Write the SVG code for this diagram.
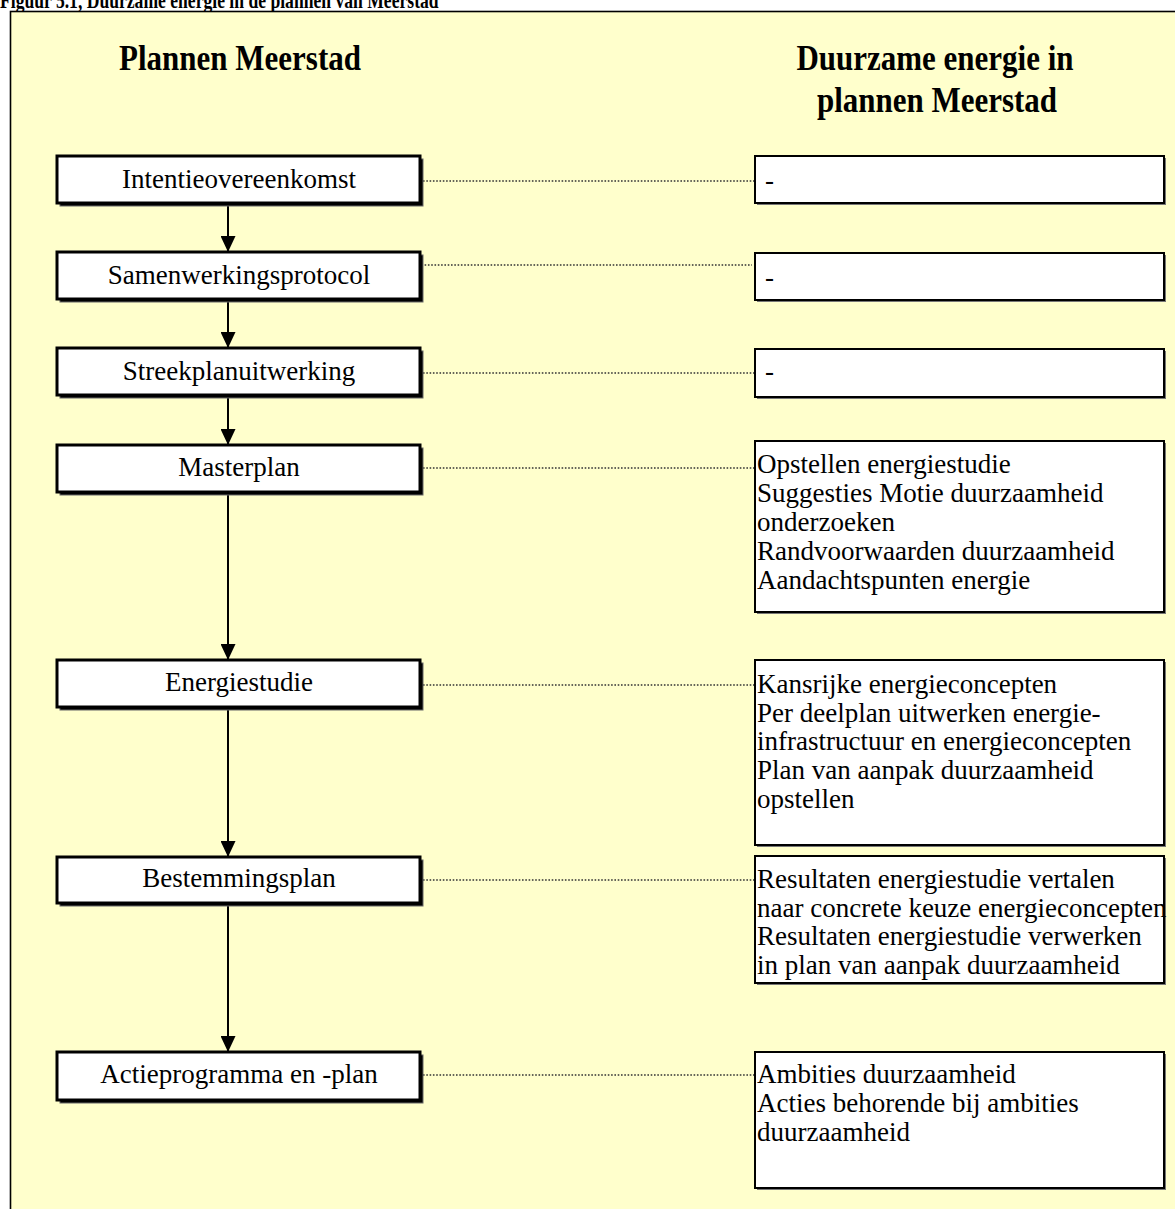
<svg xmlns="http://www.w3.org/2000/svg" width="1175" height="1209" viewBox="0 0 1175 1209">
  <defs>
    <style>
      .title { font-family: "Liberation Serif", "Times New Roman", serif; font-weight: bold; font-size: 17.6px; fill: #000; }
      .head { font-family: "Liberation Serif", "Times New Roman", serif; font-weight: bold; font-size: 31px; fill: #000; text-anchor: middle; }
      .lbl { font-family: "Liberation Serif", "Times New Roman", serif; font-size: 27px; fill: #000; }
      .mid { text-anchor: middle; }
      .step { fill: #fff; stroke: #000; stroke-width: 3; }
      .step-shadow { fill: #000; stroke: #666; stroke-width: 1; }
      .note { fill: #fff; stroke: #000; stroke-width: 2; }
      .note-shadow { fill: #777; }
      .dots { stroke: #333; stroke-width: 1.6; stroke-dasharray: 1.6 1.7; fill: none; }
      .flow { stroke: #000; stroke-width: 2; fill: none; }
    </style>
    <marker id="arrow" viewBox="0 0 16 15" refX="16" refY="7.5" markerWidth="16" markerHeight="15" markerUnits="userSpaceOnUse" orient="auto">
      <path d="M0,0 L16,7.5 L0,15 Z" fill="#000"/>
    </marker>
  </defs>

  <!-- caption, partly above the top edge -->
  <text class="title" transform="translate(0,8) scale(1,1.3)">Figuur 5.1, Duurzame energie in de plannen van Meerstad</text>

  <!-- figure frame -->
  <rect x="10.5" y="11.5" width="1200" height="1230" fill="#FFFFCC" stroke="#000" stroke-width="1.6"/>

  <!-- column headings -->
  <g id="heading-left">
    <text class="head" transform="translate(240,70) scale(1,1.15)">Plannen Meerstad</text>
  </g>
  <g id="heading-right">
    <text class="head" transform="translate(935,70) scale(1,1.15)">Duurzame energie in</text>
    <text class="head" transform="translate(937,112) scale(1,1.15)">plannen Meerstad</text>
  </g>

  <!-- connectors -->
  <g id="connectors">
    <line class="flow" x1="228" y1="204" x2="228" y2="252" marker-end="url(#arrow)"/>
    <line class="flow" x1="228" y1="300" x2="228" y2="348" marker-end="url(#arrow)"/>
    <line class="flow" x1="228" y1="396" x2="228" y2="445" marker-end="url(#arrow)"/>
    <line class="flow" x1="228" y1="493" x2="228" y2="660" marker-end="url(#arrow)"/>
    <line class="flow" x1="228" y1="708" x2="228" y2="857" marker-end="url(#arrow)"/>
    <line class="flow" x1="228" y1="904" x2="228" y2="1052" marker-end="url(#arrow)"/>

    <line class="dots" x1="423" y1="181" x2="755" y2="181"/>
    <line class="dots" x1="418" y1="265" x2="752" y2="265"/>
    <line class="dots" x1="423" y1="373" x2="755" y2="373"/>
    <line class="dots" x1="423" y1="468" x2="755" y2="468"/>
    <line class="dots" x1="423" y1="685" x2="755" y2="685"/>
    <line class="dots" x1="423" y1="880" x2="755" y2="880"/>
    <line class="dots" x1="423" y1="1075" x2="755" y2="1075"/>
  </g>

  <!-- plan steps -->
  <g id="step-intentie">
    <rect class="step-shadow" x="60" y="159" width="363" height="47"/>
    <rect class="step" x="57" y="156" width="363" height="47"/>
    <text class="lbl mid" x="239" y="188">Intentieovereenkomst</text>
  </g>
  <g id="step-samenwerking">
    <rect class="step-shadow" x="60" y="255" width="363" height="47"/>
    <rect class="step" x="57" y="252" width="363" height="47"/>
    <text class="lbl mid" x="239" y="284">Samenwerkingsprotocol</text>
  </g>
  <g id="step-streekplan">
    <rect class="step-shadow" x="60" y="351" width="363" height="47"/>
    <rect class="step" x="57" y="348" width="363" height="47"/>
    <text class="lbl mid" x="239" y="380">Streekplanuitwerking</text>
  </g>
  <g id="step-masterplan">
    <rect class="step-shadow" x="60" y="448" width="363" height="47"/>
    <rect class="step" x="57" y="445" width="363" height="47"/>
    <text class="lbl mid" x="239" y="476">Masterplan</text>
  </g>
  <g id="step-energiestudie">
    <rect class="step-shadow" x="60" y="663" width="363" height="47"/>
    <rect class="step" x="57" y="660" width="363" height="47"/>
    <text class="lbl mid" x="239" y="691">Energiestudie</text>
  </g>
  <g id="step-bestemmingsplan">
    <rect class="step-shadow" x="60" y="860" width="363" height="46"/>
    <rect class="step" x="57" y="857" width="363" height="46"/>
    <text class="lbl mid" x="239" y="887">Bestemmingsplan</text>
  </g>
  <g id="step-actieprogramma">
    <rect class="step-shadow" x="60" y="1055" width="363" height="48"/>
    <rect class="step" x="57" y="1052" width="363" height="48"/>
    <text class="lbl mid" x="239" y="1083">Actieprogramma en -plan</text>
  </g>

  <!-- sustainable energy notes -->
  <g id="note-intentie">
    <rect class="note-shadow" x="757" y="158" width="409" height="47"/>
    <rect class="note" x="755" y="156" width="409" height="47"/>
    <text class="lbl" x="765" y="189">-</text>
  </g>
  <g id="note-samenwerking">
    <rect class="note-shadow" x="757" y="255" width="409" height="47"/>
    <rect class="note" x="755" y="253" width="409" height="47"/>
    <text class="lbl" x="765" y="286">-</text>
  </g>
  <g id="note-streekplan">
    <rect class="note-shadow" x="757" y="351" width="409" height="48"/>
    <rect class="note" x="755" y="349" width="409" height="48"/>
    <text class="lbl" x="765" y="380">-</text>
  </g>
  <g id="note-masterplan">
    <rect class="note-shadow" x="757" y="443" width="409" height="171"/>
    <rect class="note" x="755" y="441" width="409" height="171"/>
    <text class="lbl" x="757" y="473">Opstellen energiestudie</text>
    <text class="lbl" x="757" y="502">Suggesties Motie duurzaamheid</text>
    <text class="lbl" x="757" y="531">onderzoeken</text>
    <text class="lbl" x="757" y="560">Randvoorwaarden duurzaamheid</text>
    <text class="lbl" x="757" y="589">Aandachtspunten energie</text>
  </g>
  <g id="note-energiestudie">
    <rect class="note-shadow" x="757" y="662" width="409" height="185"/>
    <rect class="note" x="755" y="660" width="409" height="185"/>
    <text class="lbl" x="757" y="693">Kansrijke energieconcepten</text>
    <text class="lbl" x="757" y="722">Per deelplan uitwerken energie-</text>
    <text class="lbl" x="757" y="750">infrastructuur en energieconcepten</text>
    <text class="lbl" x="757" y="779">Plan van aanpak duurzaamheid</text>
    <text class="lbl" x="757" y="808">opstellen</text>
  </g>
  <g id="note-bestemmingsplan">
    <rect class="note-shadow" x="757" y="858" width="409" height="127"/>
    <rect class="note" x="755" y="856" width="409" height="127"/>
    <text class="lbl" x="757" y="888">Resultaten energiestudie vertalen</text>
    <text class="lbl" x="757" y="917">naar concrete keuze energieconcepten</text>
    <text class="lbl" x="757" y="945">Resultaten energiestudie verwerken</text>
    <text class="lbl" x="757" y="974">in plan van aanpak duurzaamheid</text>
  </g>
  <g id="note-actieprogramma">
    <rect class="note-shadow" x="757" y="1054" width="409" height="136"/>
    <rect class="note" x="755" y="1052" width="409" height="136"/>
    <text class="lbl" x="757" y="1083">Ambities duurzaamheid</text>
    <text class="lbl" x="757" y="1112">Acties behorende bij ambities</text>
    <text class="lbl" x="757" y="1141">duurzaamheid</text>
  </g>
</svg>
